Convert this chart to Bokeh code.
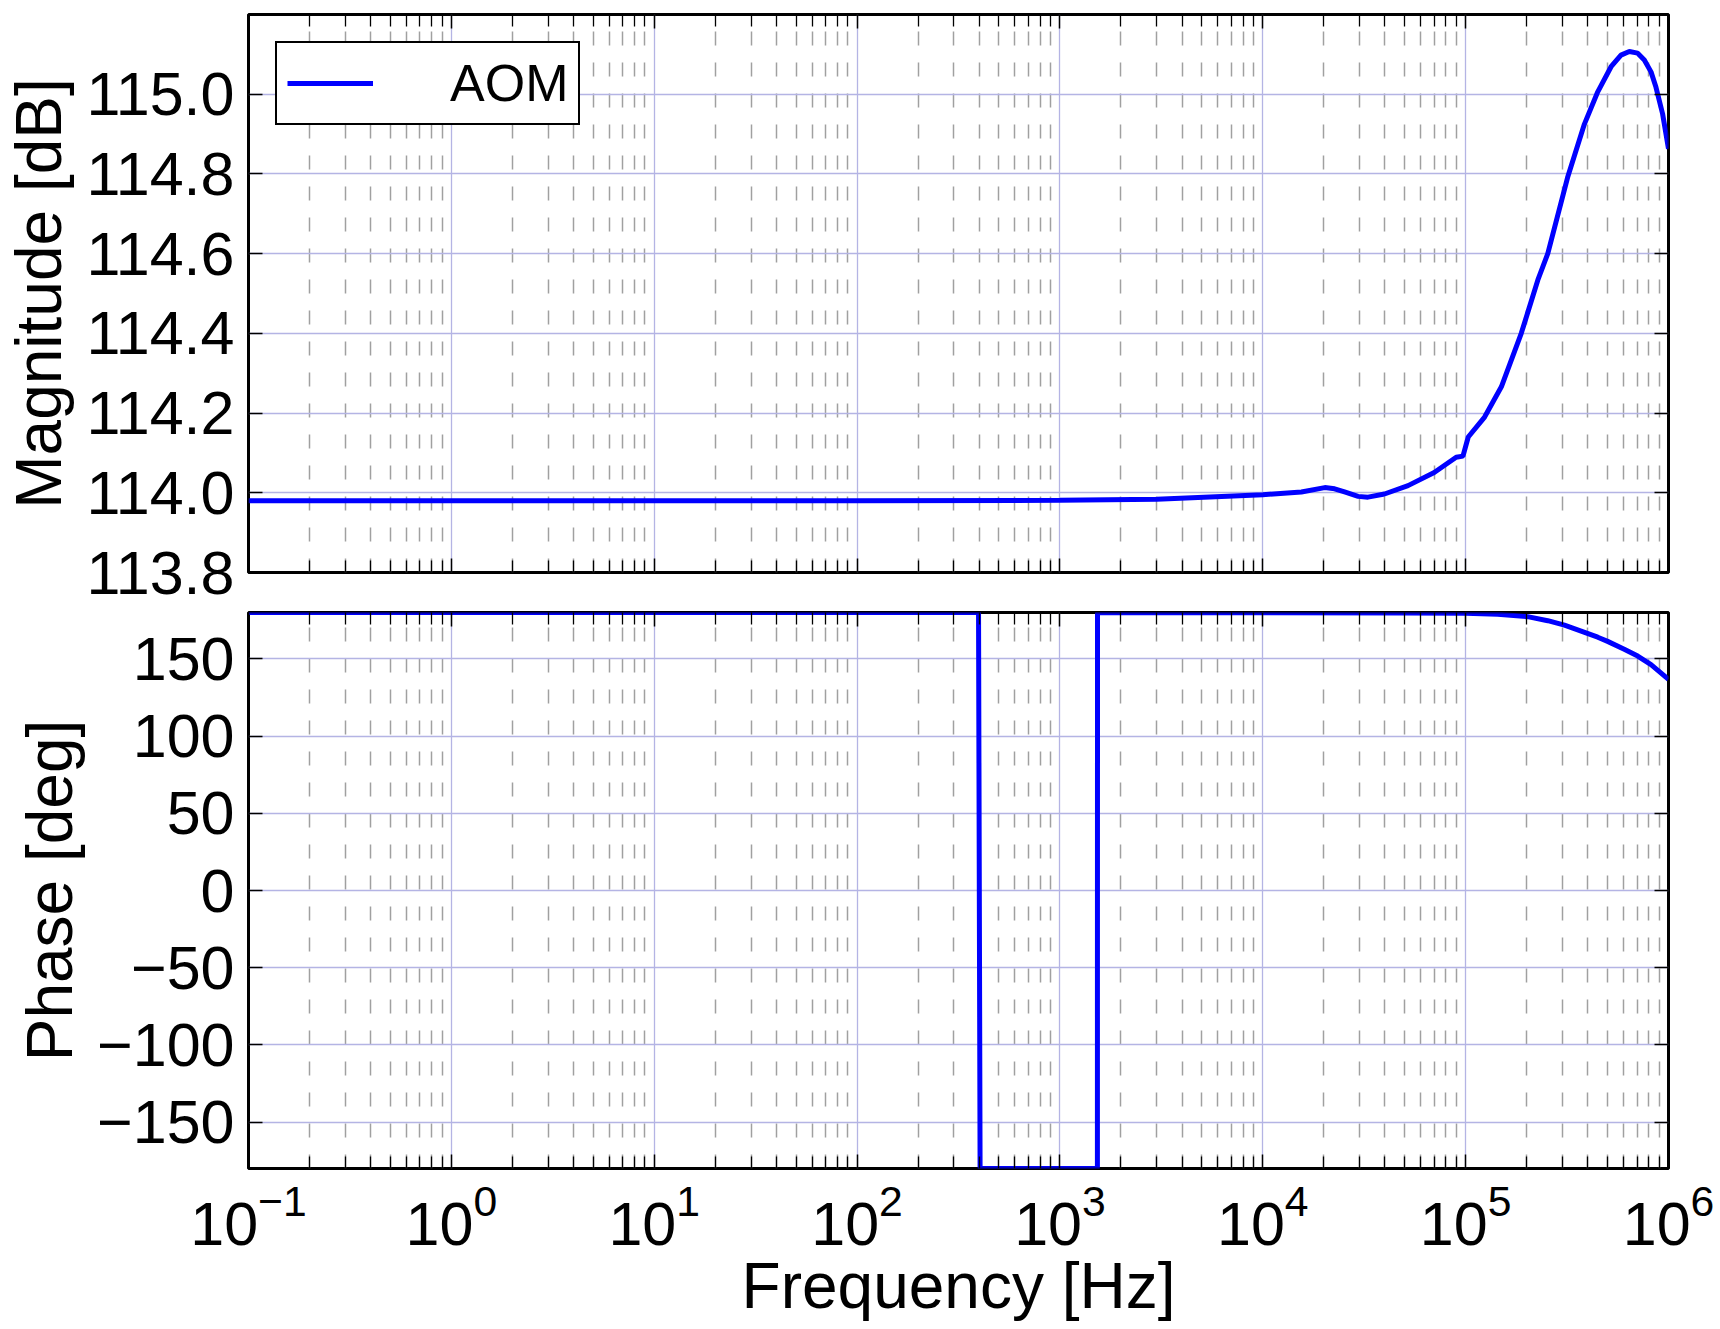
from bokeh.plotting import figure
from bokeh.layouts import column
from bokeh.models import (FixedTicker, LinearAxis, LogAxis, LogTickFormatter,
                          CustomJSTickFormatter, BoxAnnotation)
from bokeh.embed import file_html
from bokeh.resources import INLINE

# ---- data ----
mag_freq = [0.1, 1, 10, 100, 1000, 3000, 1e4, 1.55e4, 2.02e4, 2.26e4, 2.53e4,
            2.95e4, 3.3e4, 3.98e4, 5.2e4, 7.0e4, 8.98e4, 9.7e4, 1.03e5, 1.24e5,
            1.5e5, 1.88e5, 2.27e5, 2.54e5, 3.18e5, 3.85e5, 4.48e5, 5.21e5, 5.83e5,
            6.41e5, 7.05e5, 7.6e5, 8.2e5, 8.67e5, 9.35e5, 1e6]
mag_db = [113.98, 113.98, 113.98, 113.98, 113.981, 113.984, 113.995, 114.002, 114.013,
          114.010, 114.002, 113.991, 113.989, 113.997, 114.018, 114.051, 114.089,
          114.092, 114.14, 114.19, 114.266, 114.40, 114.534, 114.60, 114.791,
          114.925, 115.006, 115.069, 115.098, 115.107, 115.103, 115.086, 115.056,
          115.018, 114.951, 114.863]

ph_freq = [0.1, 397, 404, 1530, 1532, 1e4, 5e4, 1e5, 1.44e5, 2.02e5, 2.54e5, 3.07e5,
           3.71e5, 4.48e5, 5.01e5, 6.05e5, 7.05e5, 8.2e5, 1e6]
ph_deg = [180, 180, -180, -180, 180, 179.9, 179.7, 179.5, 178.9, 177.3, 174.7, 171.8,
          168.0, 164.0, 161.3, 156.2, 151.8, 146.2, 136.7]

x_ticks = [1e-1, 1e0, 1e1, 1e2, 1e3, 1e4, 1e5, 1e6]
mag_ticks = [113.8, 114.0, 114.2, 114.4, 114.6, 114.8, 115.0]
mag_tick_labels = ["113.8", "114.0", "114.2", "114.4", "114.6", "114.8", "115.0"]
ph_ticks = [-150, -100, -50, 0, 50, 100, 150]
ph_tick_labels = ["\u2212150", "\u2212100", "\u221250", "0", "50", "100", "150"]

series_name = "AOM"
x_label = "Frequency [Hz]"
mag_label = "Magnitude [dB]"
ph_label = "Phase [deg]"

# ---- styling ----
FONT = "Liberation Sans"
TICK_FS = "61px"
LABEL_FS = "64px"
BLUE = "#0000ff"
GRID = "#b4b4e4"
MINOR = "#a0a0a0"

W = 1720
H1 = 609
H2 = 720

minor_x = [m * d for d in x_ticks[:-1] for m in range(2, 10)]


def x_ticker():
    return FixedTicker(ticks=x_ticks, minor_ticks=minor_x)


def style_ticks(ax, minor=True):
    ax.axis_line_color = None
    ax.major_tick_in = 14
    ax.major_tick_out = 0
    ax.major_tick_line_color = "black"
    ax.major_tick_line_width = 1.5
    if minor:
        ax.minor_tick_in = 12
        ax.minor_tick_out = 0
        ax.minor_tick_line_color = "black"
        ax.minor_tick_line_width = 1.3
    else:
        ax.minor_tick_line_color = None
    ax.major_label_text_font = FONT
    ax.major_label_text_font_size = TICK_FS
    ax.major_label_text_color = "black"
    ax.axis_label_text_font = FONT
    ax.axis_label_text_font_size = LABEL_FS
    ax.axis_label_text_font_style = "normal"
    ax.axis_label_text_color = "black"


def hide_labels(ax):
    ax.formatter = CustomJSTickFormatter(code="return ' ';")
    ax.major_label_text_font_size = "2px"
    ax.major_label_text_color = None
    ax.major_label_standoff = 0


def make_fig(height, y_range, yticks, ylabels, ylabel, border_top, border_bottom, show_x):
    p = figure(width=W, height=height, x_axis_type="log", x_range=(0.1, 1e6),
               y_range=y_range, output_backend="svg", toolbar_location=None,
               min_border_left=248, min_border_right=52,
               min_border_top=border_top, min_border_bottom=border_bottom,
               background_fill_color="white", border_fill_color="white")
    p.outline_line_color = "black"
    p.outline_line_width = 3

    xt = x_ticker()
    p.xaxis.ticker = xt
    style_ticks(p.xaxis[0])
    if show_x:
        p.xaxis.formatter = LogTickFormatter()
        p.xaxis.axis_label = x_label
        p.xaxis.major_label_standoff = 15
        p.xaxis.axis_label_standoff = 2
    else:
        hide_labels(p.xaxis[0])

    yt = FixedTicker(ticks=yticks, minor_ticks=[])
    p.yaxis.ticker = yt
    p.yaxis.major_label_overrides = {t: s for t, s in zip(yticks, ylabels)}
    style_ticks(p.yaxis[0], minor=False)
    p.yaxis.axis_label = ylabel
    p.yaxis.major_label_standoff = 14
    p.yaxis.axis_label_standoff = 8

    top = LogAxis(ticker=x_ticker())
    style_ticks(top)
    hide_labels(top)
    p.add_layout(top, "above")
    right = LinearAxis(ticker=FixedTicker(ticks=yticks, minor_ticks=[]))
    style_ticks(right, minor=False)
    hide_labels(right)
    p.add_layout(right, "right")

    p.xgrid.ticker = xt
    p.xgrid.grid_line_color = GRID
    p.xgrid.grid_line_width = 1.3
    p.xgrid.minor_grid_line_color = MINOR
    p.xgrid.minor_grid_line_width = 1.5
    p.xgrid.minor_grid_line_dash = "14 17"
    p.ygrid.ticker = yt
    p.ygrid.grid_line_color = GRID
    p.ygrid.grid_line_width = 1.3

    # frame border drawn above the data lines (as in the reference)
    p.add_layout(BoxAnnotation(fill_color=None, fill_alpha=0, line_color="black",
                               line_width=3, level="overlay"))
    return p


p1 = make_fig(H1, (113.8, 115.2), mag_ticks, mag_tick_labels, mag_label, 14, 37, False)
p1.line(mag_freq, mag_db, line_color=BLUE, line_width=5, legend_label=series_name)
lg = p1.legend[0]
lg.location = "top_left"
lg.margin = 27
lg.padding = 10
lg.spacing = 0
lg.glyph_width = 86
lg.label_standoff = 77
lg.label_text_font = FONT
lg.label_text_font_size = "52px"
lg.label_text_color = "black"
lg.border_line_color = "black"
lg.border_line_alpha = 1.0
lg.border_line_width = 2.5
lg.background_fill_color = "white"
lg.background_fill_alpha = 1.0

p2 = make_fig(H2, (-180, 180), ph_ticks, ph_tick_labels, ph_label, 3, 161, True)
p2.line(ph_freq, ph_deg, line_color=BLUE, line_width=5)

layout = column(p1, p2, spacing=0)
open("out.html", "w").write(file_html(layout, INLINE))
